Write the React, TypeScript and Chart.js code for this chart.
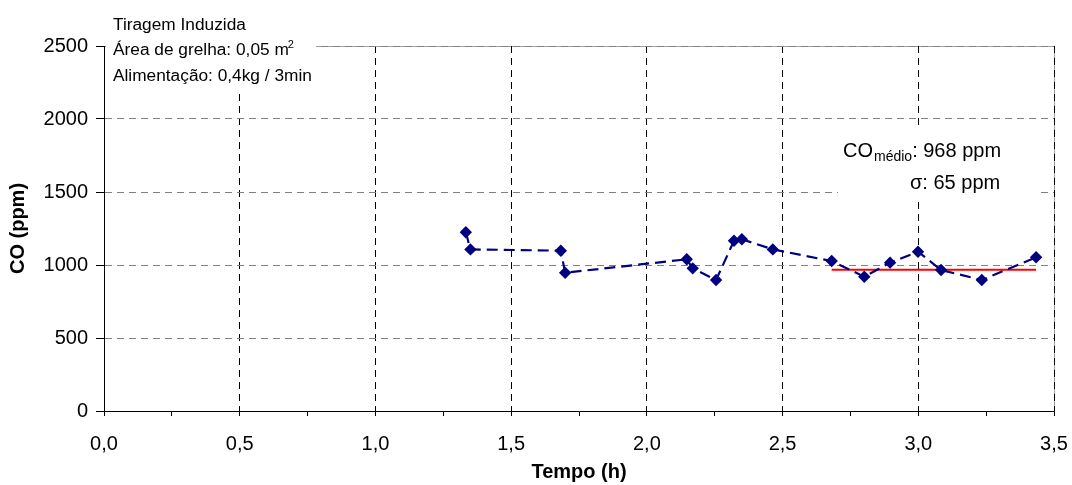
import React, { useEffect, useRef } from "react";
import { Chart, registerables } from "chart.js";

Chart.register(...registerables);

// ---- data ----
const timeH = [1.333, 1.35, 1.683, 1.699, 2.147, 2.169, 2.255, 2.321, 2.35, 2.464, 2.681, 2.801, 2.896, 2.999, 3.084, 3.234, 3.434];
const coPpm = [1224, 1107, 1098, 947, 1039, 977, 897, 1166, 1176, 1107, 1027, 920, 1016, 1091, 966, 897, 1053];
const meanRangeH = [2.681, 3.434];
const meanCO = 968;
const sigmaCO = 65;
const xMin = 0;
const xMax = 3.5;
const xStep = 0.25;
const xLabelStep = 0.5;
const yMin = 0;
const yMax = 2500;
const yStep = 500;
const infoLines = ["Tiragem Induzida", "Área de grelha: 0,05 m", "Alimentação: 0,4kg / 3min"];
const xTitle = "Tempo (h)";
const yTitle = "CO (ppm)";

const FONT = "'Liberation Sans', Arial, sans-serif";

const isMajor = (v: number) => Math.abs(v / xLabelStep - Math.round(v / xLabelStep)) < 1e-6;

export default function App() {
  const ref = useRef<HTMLCanvasElement>(null);

  useEffect(() => {
    document.body.style.margin = "0";
    const canvas = ref.current;
    if (!canvas) return;

    const annot = {
      id: "annot",
      beforeDraw(chart: any) {
        const { ctx, chartArea: a } = chart;
        ctx.save();
        ctx.strokeStyle = "#a0a0a0";
        ctx.lineWidth = 1;
        ctx.beginPath();
        ctx.moveTo(a.left, a.top + 0.5);
        ctx.lineTo(a.right + 0.5, a.top + 0.5);
        ctx.lineTo(a.right + 0.5, a.bottom);
        ctx.stroke();
        ctx.restore();
      },
      afterDraw(chart: any) {
        const { ctx } = chart;
        ctx.save();
        ctx.fillStyle = "#fff";
        ctx.fillRect(106, 0, 210, 93);
        ctx.fillRect(838, 127, 202, 71);
        ctx.fillStyle = "#000";
        ctx.textBaseline = "alphabetic";
        ctx.textAlign = "left";
        ctx.font = `17.3px ${FONT}`;
        ctx.fillText(infoLines[0], 113, 29.5);
        ctx.fillText(infoLines[1], 113, 55);
        const w1 = ctx.measureText(infoLines[1]).width;
        ctx.font = `11px ${FONT}`;
        ctx.fillText("2", 113 + w1 - 1, 48);
        ctx.font = `17.3px ${FONT}`;
        ctx.fillText(infoLines[2], 113, 80.5);

        ctx.font = `20px ${FONT}`;
        let x = 843;
        ctx.fillText("CO", x, 157);
        x += ctx.measureText("CO").width + 1;
        ctx.font = `14px ${FONT}`;
        ctx.fillText("médio", x, 161);
        x += ctx.measureText("médio").width;
        ctx.font = `20px ${FONT}`;
        ctx.fillText(`: ${meanCO} ppm`, x, 157);
        ctx.fillText(`σ: ${sigmaCO} ppm`, 910, 188.5);
        ctx.restore();
      },
    };

    const chart = new Chart(canvas, {
      type: "scatter",
      data: {
        datasets: [
          {
            data: timeH.map((t, i) => ({ x: t, y: coPpm[i] })),
            showLine: true,
            borderColor: "#000080",
            backgroundColor: "#000080",
            borderWidth: 2.2,
            borderDash: [11, 6],
            pointStyle: "rectRot",
            pointRadius: 6.2,
            pointBorderWidth: 0,
            pointBackgroundColor: "#000080",
          },
          {
            data: meanRangeH.map((t) => ({ x: t, y: meanCO })),
            showLine: true,
            borderColor: "#ff0000",
            borderWidth: 2,
            pointRadius: 0,
          },
        ],
      },
      options: {
        animation: false,
        responsive: false,
        events: [],
        layout: { padding: { top: 46, right: 18, left: 0, bottom: 0 } },
        plugins: { legend: { display: false }, tooltip: { enabled: false } },
        scales: {
          x: {
            type: "linear",
            min: xMin,
            max: xMax,
            afterFit: (s: any) => {
              s.height = 74;
              s.paddingLeft = 0;
              s.paddingRight = 0;
            },
            ticks: {
              stepSize: xStep,
              autoSkip: false,
              maxRotation: 0,
              color: "#000",
              font: { family: FONT, size: 20 },
              padding: 16,
              callback: (v: any) => (isMajor(Number(v)) ? Number(v).toFixed(1).replace(".", ",") : ""),
            },
            grid: {
              color: (c: any) => (c.tick && isMajor(c.tick.value) && c.tick.value > xMin ? "#000" : "rgba(0,0,0,0)"),
              tickColor: "#000",
              tickLength: 5,
              lineWidth: 1,
            },
            border: { display: true, color: "#000", width: 1, dash: [7, 5] },
            title: {
              display: true,
              text: xTitle,
              color: "#000",
              font: { family: FONT, size: 20, weight: "bold" },
              padding: 1,
            },
          },
          y: {
            type: "linear",
            min: yMin,
            max: yMax,
            afterFit: (s: any) => {
              s.width = 104;
            },
            ticks: {
              stepSize: yStep,
              color: "#000",
              font: { family: FONT, size: 20 },
              padding: 8,
              callback: (v: any) => String(v),
            },
            grid: {
              color: (c: any) => (c.tick && c.tick.value > yMin ? "#808080" : "rgba(0,0,0,0)"),
              tickColor: "#000",
              tickLength: 8,
              lineWidth: 1,
            },
            border: { display: true, color: "#000", width: 1, dash: [7, 5] },
            title: {
              display: true,
              text: yTitle,
              color: "#000",
              font: { family: FONT, size: 20, weight: "bold" },
              padding: 6,
            },
          },
        },
      },
      plugins: [annot],
    } as any);

    return () => chart.destroy();
  }, []);

  return (
    <div style={{ width: 1072, height: 485 }}>
      <canvas ref={ref} width={1072} height={485} style={{ display: "block" }} />
    </div>
  );
}
